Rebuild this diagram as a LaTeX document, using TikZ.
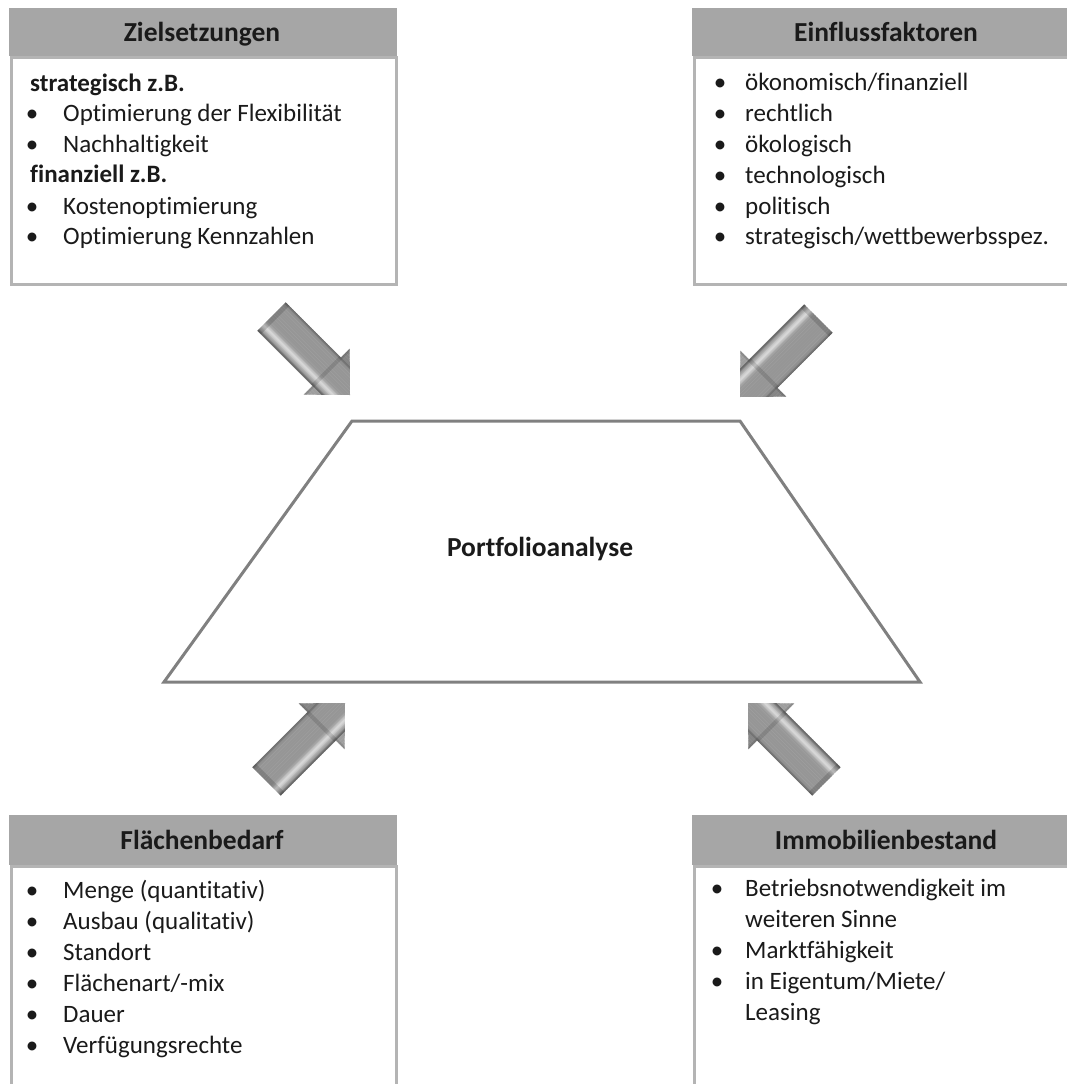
\documentclass[tikz,border=0pt]{standalone}
\usepackage{fontspec}
\setmainfont{Carlito}[Ligatures=NoCommon]
\definecolor{hdrgray}{HTML}{A6A6A6}
\definecolor{boxline}{HTML}{B4B4B4}
\definecolor{trapline}{HTML}{808080}
\definecolor{txtcol}{HTML}{1A1A1A}

% gray block arrow with a tubular highlight; apex at (#1,#2), pointing at angle #3
\newcommand{\greyblockarrow}[4]{%
  \begin{scope}[shift={(#1,#2)}, rotate=#3]
    \coordinate (#4) at (0,0);
    \begin{scope}
      \clip (0,0) -- (-33,-32.5) -- (-33,-20) -- (-111,-20) -- (-111,20)
            -- (-33,20) -- (-33,32.5) -- cycle;
      \foreach \yy in {-33,-32,...,32} {
        \pgfmathsetmacro\k{(abs(\yy+0.5)>20) ? ((\yy<0) ? 48 : 38) :
          (41 - 25*exp(-(((\yy+0.5-12)/3.5)^2))
              + 16*exp(-(((\yy+0.5+20)/2.5)^2))
              + 22*exp(-(((\yy+0.5-20)/2)^2)))}
        \fill[black!\k] (-115,\yy) rectangle (3,\yy+1.3);
      }
      \fill[black, opacity=0.15] (-111,-33) rectangle (-106,33);
      \fill[black, opacity=0.12] (-35,-33) rectangle (-31,33);
    \end{scope}
  \end{scope}}

\begin{document}
\begin{tikzpicture}[x=1pt,y=-1pt,
  hdr/.style={fill=hdrgray, draw=none, anchor=north west, inner sep=0pt},
  bodybox/.style={draw=boxline, line width=2.5pt, fill=white, anchor=north west, inner sep=0pt},
  hdrtext/.style={anchor=base, inner sep=0pt, text=txtcol, font=\bfseries\fontsize{27.5}{33}\selectfont},
  txt/.style={anchor=base west, inner sep=0pt, text=txtcol, font=\fontsize{25}{30}\selectfont},
  bul/.style={anchor=base, inner sep=0pt, text=txtcol, font=\fontsize{25}{30}\selectfont},
  trap/.style={draw=trapline, line width=3pt, line join=miter}]

\useasboundingbox (0,0) rectangle (1067,1084);
\clip (0,0) rectangle (1067,1084);

% ---------- Zielsetzungen ----------
\node[bodybox, minimum width=385pt, minimum height=227pt] (zbox) at (10,56) {};
\node[hdr, minimum width=388pt, minimum height=48pt] (zhead) at (9,8) {};
\node[hdrtext] (zt) at (202,41.5) {Zielsetzungen};
\node[txt, font=\bfseries\fontsize{25}{30}\selectfont] (z0) at (30,91) {strategisch z.B.};
\node[bul] (zb1) at (32,121) {•};
\node[txt] (z1) at (63,121) {Optimierung der Flexibilität};
\node[bul] (zb2) at (32,152) {•};
\node[txt] (z2) at (63,152) {Nachhaltigkeit};
\node[txt, font=\bfseries\fontsize{25}{30}\selectfont] (z3) at (30,182) {finanziell z.B.};
\node[bul] (zb4) at (32,214) {•};
\node[txt] (z4) at (63,214) {Kostenoptimierung};
\node[bul] (zb5) at (32,244) {•};
\node[txt] (z5) at (63,244) {Optimierung Kennzahlen};

% ---------- Einflussfaktoren ----------
\node[bodybox, minimum width=387pt, minimum height=227pt] (ebox) at (693,56) {};
\node[hdr, minimum width=390pt, minimum height=48pt] (ehead) at (692,8) {};
\node[hdrtext] (et) at (886,41.5) {Einflussfaktoren};
\node[bul] (eb1) at (720,90) {•};
\node[txt] (e1) at (745,90) {ökonomisch/finanziell};
\node[bul] (eb2) at (720,121) {•};
\node[txt] (e2) at (745,121) {rechtlich};
\node[bul] (eb3) at (720,152) {•};
\node[txt] (e3) at (745,152) {ökologisch};
\node[bul] (eb4) at (720,183) {•};
\node[txt] (e4) at (745,183) {technologisch};
\node[bul] (eb5) at (720,214) {•};
\node[txt] (e5) at (745,214) {politisch};
\node[bul] (eb6) at (720,244) {•};
\node[txt] (e6) at (745,244) {strategisch/wettbewerbsspez.};

% ---------- Flächenbedarf ----------
\node[bodybox, minimum width=385pt, minimum height=240pt] (fbox) at (10,865) {};
\node[hdr, minimum width=388pt, minimum height=50pt] (fhead) at (9,815) {};
\node[hdrtext] (ft) at (202,849) {Flächenbedarf};
\node[bul] (fb1) at (32,898) {•};
\node[txt] (f1) at (63,898) {Menge (quantitativ)};
\node[bul] (fb2) at (32,929) {•};
\node[txt] (f2) at (63,929) {Ausbau (qualitativ)};
\node[bul] (fb3) at (32,960) {•};
\node[txt] (f3) at (63,960) {Standort};
\node[bul] (fb4) at (32,991) {•};
\node[txt] (f4) at (63,991) {Flächenart/-mix};
\node[bul] (fb5) at (32,1022) {•};
\node[txt] (f5) at (63,1022) {Dauer};
\node[bul] (fb6) at (32,1053) {•};
\node[txt] (f6) at (63,1053) {Verfügungsrechte};

% ---------- Immobilienbestand ----------
\node[bodybox, minimum width=387pt, minimum height=240pt] (ibox) at (693,865) {};
\node[hdr, minimum width=390pt, minimum height=50pt] (ihead) at (692,815) {};
\node[hdrtext] (it) at (886,849) {Immobilienbestand};
\node[bul] (ib1) at (717,896) {•};
\node[txt] (i1) at (745,896) {Betriebsnotwendigkeit im};
\node[txt] (i1b) at (745,927) {weiteren Sinne};
\node[bul] (ib2) at (717,958) {•};
\node[txt] (i2) at (745,958) {Marktfähigkeit};
\node[bul] (ib3) at (717,989) {•};
\node[txt] (i3) at (745,989) {in Eigentum/Miete/};
\node[txt] (i3b) at (745,1020) {Leasing};

% ---------- Portfolioanalyse ----------
\coordinate (tl) at (352,421);
\coordinate (tr) at (740,421);
\coordinate (br) at (920,682);
\coordinate (bl) at (164,682);
\draw[trap] (tl) -- (tr) -- (br) -- (bl) -- cycle;
\node[hdrtext] (pa) at (540,556) {Portfolioanalyse};

% ---------- arrows pointing at the analysis ----------
\greyblockarrow{350}{395}{-45}{a1}
\greyblockarrow{740}{397}{-135}{a2}
\greyblockarrow{345}{703}{45}{a3}
\greyblockarrow{748}{703}{135}{a4}

\end{tikzpicture}
\end{document}
